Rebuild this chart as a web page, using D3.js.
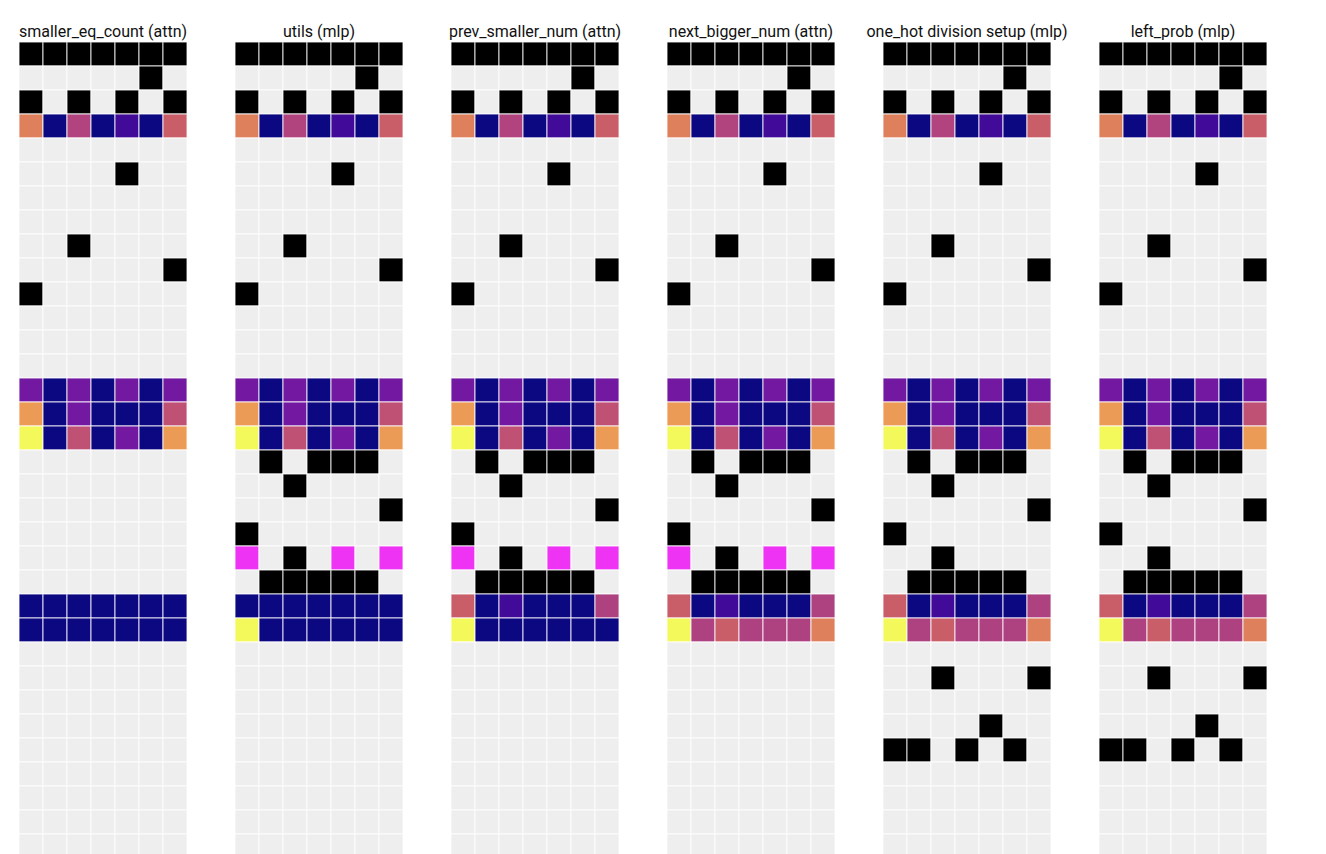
<!DOCTYPE html>
<html>
<head>
<meta charset="utf-8">
<script src="https://cdn.jsdelivr.net/npm/d3@7"></script>
<style>
  html, body { margin: 0; padding: 0; background: #fff; overflow: hidden; }
  svg { display: block; }
</style>
</head>
<body>
<div id="chart"></div>
<script>
// ---------------- DATA ----------------
// Cell codes: null = empty (light grey), "k" = black, "m" = magenta, number = colour-scale value (0..1)
const panelTitles = [
  "smaller_eq_count (attn)",
  "utils (mlp)",
  "prev_smaller_num (attn)",
  "next_bigger_num (attn)",
  "one_hot division setup (mlp)",
  "left_prob (mlp)"
];
const nCols = 7;
const nRows = 34;

const _ = null, k = "k", m = "m";
const emptyRow = [_, _, _, _, _, _, _];

// rows shared by every panel (rows 0..16)
const sharedRows = [
  [k, k, k, k, k, k, k],
  [_, _, _, _, _, k, _],
  [k, _, k, _, k, _, k],
  [0.67, 0, 0.43, 0, 0.1, 0, 0.56],
  emptyRow,
  [_, _, _, _, k, _, _],
  emptyRow,
  emptyRow,
  [_, _, k, _, _, _, _],
  [_, _, _, _, _, _, k],
  [k, _, _, _, _, _, _],
  emptyRow,
  emptyRow,
  emptyRow,
  [0.23, 0, 0.23, 0, 0.23, 0, 0.23],
  [0.75, 0, 0.23, 0, 0, 0, 0.48],
  [1.0, 0, 0.48, 0, 0.23, 0, 0.75]
];

// rows 17..33 per panel
const panel1Rows = [
  emptyRow, emptyRow, emptyRow, emptyRow, emptyRow, emptyRow,
  [0, 0, 0, 0, 0, 0, 0],
  [0, 0, 0, 0, 0, 0, 0]
];
const panel2Rows = [
  [_, k, _, k, k, k, _],
  [_, _, k, _, _, _, _],
  [_, _, _, _, _, _, k],
  [k, _, _, _, _, _, _],
  [m, _, k, _, m, _, m],
  [_, k, k, k, k, k, _],
  [0, 0, 0, 0, 0, 0, 0],
  [1.0, 0, 0, 0, 0, 0, 0]
];
const panel3Rows = [
  [_, k, _, k, k, k, _],
  [_, _, k, _, _, _, _],
  [_, _, _, _, _, _, k],
  [k, _, _, _, _, _, _],
  [m, _, k, _, m, _, m],
  [_, k, k, k, k, k, _],
  [0.56, 0, 0.1, 0, 0, 0, 0.42],
  [1.0, 0, 0, 0, 0, 0, 0]
];
const panel4Rows = [
  [_, k, _, k, k, k, _],
  [_, _, k, _, _, _, _],
  [_, _, _, _, _, _, k],
  [k, _, _, _, _, _, _],
  [m, _, k, _, m, _, m],
  [_, k, k, k, k, k, _],
  [0.56, 0, 0.1, 0, 0, 0, 0.42],
  [1.0, 0.42, 0.56, 0.42, 0.42, 0.42, 0.67]
];
const panel5Rows = [
  [_, k, _, k, k, k, _],
  [_, _, k, _, _, _, _],
  [_, _, _, _, _, _, k],
  [k, _, _, _, _, _, _],
  [_, _, k, _, _, _, _],
  [_, k, k, k, k, k, _],
  [0.56, 0, 0.1, 0, 0, 0, 0.42],
  [1.0, 0.42, 0.56, 0.42, 0.42, 0.42, 0.67],
  emptyRow,
  [_, _, k, _, _, _, k],
  emptyRow,
  [_, _, _, _, k, _, _],
  [k, k, _, k, _, k, _]
];
const panel6Rows = [
  [_, k, _, k, k, k, _],
  [_, _, k, _, _, _, _],
  [_, _, _, _, _, _, k],
  [k, _, _, _, _, _, _],
  [_, _, k, _, _, _, _],
  [_, k, k, k, k, k, _],
  [0.56, 0, 0.1, 0, 0, 0, 0.42],
  [1.0, 0.42, 0.56, 0.42, 0.42, 0.42, 0.67],
  emptyRow,
  [_, _, k, _, _, _, k],
  emptyRow,
  [_, _, _, _, k, _, _],
  [k, k, _, k, _, k, _]
];
const panelTails = [panel1Rows, panel2Rows, panel3Rows, panel4Rows, panel5Rows, panel6Rows];

// ---------------- BUILD ----------------
const W = 1326, H = 854;
const cell = 24;
const gridLeft = 19, gridTop = 42, panelStep = 216;

const panels = panelTitles.map((title, i) => {
  const rows = sharedRows.concat(panelTails[i]);
  while (rows.length < nRows) rows.push(emptyRow);
  const cells = [];
  rows.forEach((r, ri) => r.forEach((v, ci) => cells.push({ row: ri, col: ci, v })));
  return { title, index: i, cells };
});

const px = d3.scaleLinear().domain([0, 1]).range([gridLeft, gridLeft + panelStep]);
const x = d3.scaleBand().domain(d3.range(nCols)).range([0, nCols * cell]).padding(0);
const y = d3.scaleBand().domain(d3.range(nRows)).range([0, nRows * cell]).padding(0);

// plasma-like colour ramp (as it appears in the reference rendering)
const colour = d3.scaleLinear()
  .domain([0, 0.1, 0.23, 0.42, 0.48, 0.56, 0.67, 0.75, 1])
  .range(["#0c0882", "#410a98", "#7319a1", "#ae4180", "#bf5175", "#c95e69", "#df805c", "#eb9b55", "#f3f95a"])
  .interpolate(d3.interpolateRgb)
  .clamp(true);

function fillOf(v) {
  if (v === null) return "#eeeeee";
  if (v === "k") return "#000000";
  if (v === "m") return "#ee33f5";
  return colour(v);
}

const svg = d3.select("#chart").append("svg")
  .attr("width", W).attr("height", H);

const g = svg.selectAll("g.panel").data(panels).join("g")
  .attr("class", "panel")
  .attr("transform", d => `translate(${px(d.index)},${gridTop})`);

g.selectAll("rect").data(d => d.cells).join("rect")
  .attr("x", d => x(d.col))
  .attr("y", d => y(d.row))
  .attr("width", x.bandwidth())
  .attr("height", y.bandwidth())
  .attr("fill", d => fillOf(d.v))
  .attr("stroke", "#ffffff")
  .attr("stroke-opacity", 0.82)
  .attr("stroke-width", 1);

g.append("text")
  .attr("x", nCols * cell / 2)
  .attr("y", -5)
  .attr("text-anchor", "middle")
  .attr("font-family", "Roboto, 'Noto Sans', sans-serif")
  .attr("font-size", 16)
  .attr("fill", "#111")
  .text(d => d.title);
</script>
</body>
</html>
